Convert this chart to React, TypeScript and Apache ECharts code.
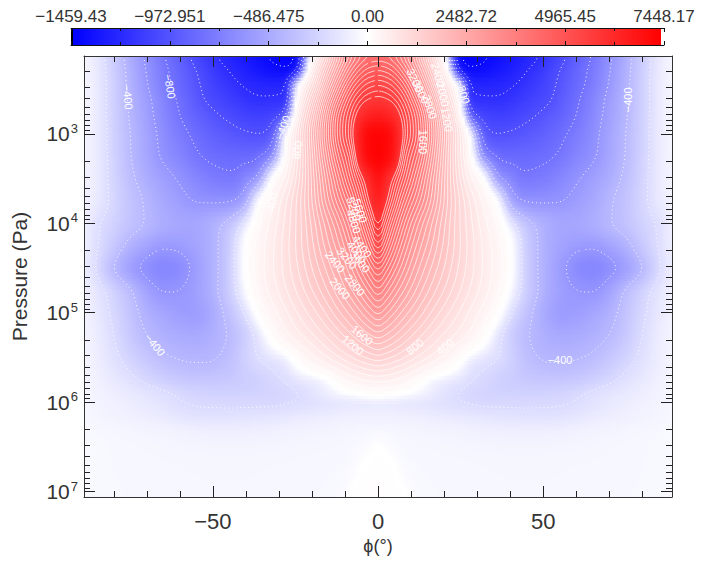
import React, { useEffect, useRef } from "react";
import * as echarts from "echarts";

// Colour bar
const barLabels = ["\u22121459.43", "\u2212972.951", "\u2212486.475", "0.00", "2482.72", "4965.45", "7448.17"];
const valueMin = -1459.43;
const valueMax = 7448.17;

// Axes
const phiMajor = [-50, 0, 50];
const phiMinor = [-80, -70, -60, -40, -30, -20, -10, 10, 20, 30, 40, 60, 70, 80];
const pressureMajor = [1e3, 1e4, 1e5, 1e6, 1e7];
const pressureMinor = [
  200, 300, 400, 500, 600, 700, 800, 900,
  2e3, 3e3, 4e3, 5e3, 6e3, 7e3, 8e3, 9e3,
  2e4, 3e4, 4e4, 5e4, 6e4, 7e4, 8e4, 9e4,
  2e5, 3e5, 4e5, 5e5, 6e5, 7e5, 8e5, 9e5,
  2e6, 3e6, 4e6, 5e6, 6e6, 7e6, 8e6, 9e6,
];

// Field: |phi| columns, log10(p) rows
const phiColumns = [0, 4, 8, 12, 16, 20, 24, 28, 32, 36, 40, 44, 48, 52, 56, 60, 65, 70, 75, 80, 85, 89];
const logPressureRows = [2.13, 2.285, 2.45, 2.62, 2.79, 3.0, 3.235, 3.49, 3.74, 4.0, 4.24, 4.5, 4.74, 5.0, 5.245, 5.5, 5.75, 5.915, 6.0, 6.14, 6.31, 6.5, 6.755, 7.06];
const fieldRows = [
  [4200, 4050, 3500, 2600, 1400, 150, -1300, -1455, -1420, -1380, -1330, -1270, -1220, -1125, -1030, -920, -790, -630, -470, -290, -130, -50],
  [4800, 4600, 4000, 3050, 1900, 650, -1100, -1380, -1370, -1330, -1280, -1220, -1160, -1070, -980, -880, -760, -610, -450, -280, -125, -50],
  [5400, 5200, 4600, 3600, 2400, 1100, 50, -1220, -1250, -1240, -1215, -1170, -1110, -1040, -950, -860, -740, -590, -440, -270, -120, -50],
  [5950, 5750, 5150, 4150, 2950, 1600, 400, -1150, -1180, -1185, -1160, -1110, -1060, -1010, -920, -825, -700, -560, -425, -270, -120, -50],
  [6650, 6350, 5500, 4600, 3350, 2000, 750, -850, -1060, -1090, -1080, -1040, -1000, -945, -880, -800, -680, -545, -415, -265, -120, -50],
  [7350, 7050, 5650, 4700, 3500, 2250, 1050, -50, -900, -1000, -985, -960, -925, -880, -820, -750, -650, -520, -400, -260, -120, -50],
  [7400, 7000, 5300, 4400, 3300, 2150, 1050, 130, -620, -820, -860, -860, -845, -820, -770, -700, -625, -510, -395, -255, -120, -55],
  [7050, 5950, 4900, 3950, 3000, 2050, 1150, 450, 30, -530, -680, -770, -760, -730, -680, -620, -550, -470, -370, -245, -120, -60],
  [6600, 5450, 4350, 3550, 2800, 2000, 1300, 750, 320, 0, -470, -610, -625, -620, -605, -560, -500, -420, -340, -235, -125, -65],
  [6000, 4800, 3800, 3050, 2450, 1850, 1300, 850, 480, 180, -120, -320, -420, -480, -510, -505, -470, -410, -345, -260, -180, -80],
  [5300, 4250, 3400, 2750, 2250, 1750, 1300, 900, 560, 280, 30, -240, -390, -480, -530, -565, -575, -520, -440, -310, -190, -90],
  [4350, 3650, 3000, 2450, 2000, 1600, 1220, 880, 570, 300, 40, -230, -390, -490, -580, -660, -690, -640, -540, -400, -215, -90],
  [3650, 3100, 2600, 2150, 1750, 1400, 1080, 780, 500, 240, -20, -240, -385, -490, -560, -600, -610, -530, -390, -265, -150, -80],
  [2900, 2500, 2100, 1750, 1400, 1100, 830, 560, 310, 70, -170, -320, -430, -520, -565, -555, -510, -450, -340, -225, -130, -70],
  [2150, 1900, 1600, 1300, 1030, 780, 560, 340, 100, -130, -270, -370, -430, -470, -490, -480, -450, -400, -310, -200, -110, -60],
  [1350, 1200, 1000, 780, 560, 350, 130, -70, -140, -190, -260, -345, -395, -420, -420, -410, -380, -320, -250, -170, -100, -55],
  [480, 420, 300, 120, -40, -100, -140, -190, -225, -260, -285, -305, -315, -320, -320, -305, -270, -225, -170, -125, -85, -50],
  [40, 10, -30, -70, -110, -160, -200, -225, -245, -250, -250, -250, -250, -245, -235, -210, -175, -145, -120, -95, -70, -45],
  [-120, -125, -135, -145, -160, -175, -195, -210, -225, -225, -225, -225, -222, -220, -212, -195, -160, -130, -105, -85, -65, -45],
  [-85, -88, -92, -100, -110, -120, -130, -140, -150, -160, -165, -170, -172, -170, -165, -150, -125, -105, -88, -72, -58, -42],
  [-48, -50, -55, -60, -65, -70, -75, -82, -88, -92, -95, -97, -97, -95, -90, -82, -72, -64, -57, -50, -45, -38],
  [8, -28, -44, -48, -50, -52, -54, -56, -58, -60, -62, -62, -62, -60, -58, -56, -54, -50, -47, -44, -40, -35],
  [40, 18, -30, -42, -44, -45, -46, -47, -48, -49, -50, -50, -50, -50, -49, -48, -47, -46, -45, -43, -40, -35],
  [60, 40, 15, -38, -42, -43, -44, -45, -46, -47, -48, -48, -48, -48, -47, -46, -45, -44, -43, -42, -40, -35],
];

// Contour levels
const dottedLevels = [-1400, -1200, -1000, -800, -600, -400, -200];
const solidLevels = [200, 400, 600, 800, 1000, 1200, 1400, 1600, 1800, 2000, 2200, 2400, 2600, 2800, 3000, 3200, 3400, 3600, 3800, 4000, 4200, 4400, 4600, 4800, 5000, 5200, 5400, 5600, 5800];

// Contour labels: phi, log10(p), text, angle in degrees
const contourLabels: [number, number, string, number][] = [
  [11.2, 2.4, "3200", -65], [13.0, 2.53, "3600", -65], [15.7, 2.7, "2800", -72],
  [18.2, 2.34, "2400", -75], [19.7, 2.56, "2000", -78], [20.9, 2.84, "1200", -80],
  [13.6, 3.09, "1600", -90], [25.7, 2.53, "\u2212800", -75], [75.7, 2.62, "\u2212400", 90],
  [-75.7, 2.59, "\u2212400", -85], [-63, 2.47, "\u2212800", -80], [-28.8, 2.93, "\u2212400", 70],
  [-24.5, 3.18, "800", 80], [-32.1, 3.76, "400", 80],
  [-5.4, 3.86, "5600", -72], [-7.3, 3.84, "5200", -72], [-7.3, 3.98, "4800", -72],
  [-4.8, 4.26, "4400", -55], [-6.4, 4.32, "4000", -55], [-5.4, 4.43, "3600", -50],
  [-9.4, 4.39, "3200", -50], [-7, 4.69, "2800", -50], [-13, 4.43, "2400", -50],
  [-11.5, 4.73, "2000", -50], [-4.8, 5.25, "1600", -40], [-7.6, 5.36, "1200", -40],
  [11.2, 5.38, "800", 40], [20.3, 5.38, "400", 40], [-67.5, 5.36, "\u2212400", -50], [55.1, 5.53, "\u2212400", 0],
];

const FONT = "Liberation Sans, DejaVu Sans";
const INK = "#333";

function valueColor(v: number): string {
  if (v < 0) {
    const c = Math.round(255 * (1 - Math.min(1, -v / -valueMin)));
    return `rgb(${c},${c},255)`;
  }
  const c = Math.round(255 * (1 - Math.min(1, v / valueMax)));
  return `rgb(255,${c},${c})`;
}

// Cubic used only to draw the table smoothly on screen
function slopes(xs: number[], ys: number[]): number[] {
  const n = xs.length;
  const h = xs.slice(1).map((x, i) => x - xs[i]);
  const d = h.map((w, i) => (ys[i + 1] - ys[i]) / w);
  const m = new Array(n).fill(0);
  m[0] = d[0];
  m[n - 1] = d[n - 2];
  for (let i = 1; i < n - 1; i++) {
    if (d[i - 1] * d[i] <= 0) m[i] = 0;
    else {
      const avg = (h[i] * d[i - 1] + h[i - 1] * d[i]) / (h[i - 1] + h[i]);
      const lim = 3 * Math.min(Math.abs(d[i - 1]), Math.abs(d[i]));
      m[i] = Math.sign(avg) * Math.min(Math.abs(avg), lim);
    }
  }
  return m;
}
function hermite(xs: number[], ys: number[], m: number[], x: number): number {
  let i = 0;
  while (i < xs.length - 2 && x > xs[i + 1]) i++;
  const w = xs[i + 1] - xs[i];
  const t = Math.max(0, Math.min(1, (x - xs[i]) / w));
  const t2 = t * t;
  const t3 = t2 * t;
  return (2 * t3 - 3 * t2 + 1) * ys[i] + (t3 - 2 * t2 + t) * w * m[i] + (-2 * t3 + 3 * t2) * ys[i + 1] + (t3 - t2) * w * m[i + 1];
}

function softened(grid: number[][], rx: number, ry: number): number[][] {
  const ny = grid.length;
  const nx = grid[0].length;
  const across = grid.map((row) =>
    row.map((_, i) => {
      let s = 0, c = 0;
      for (let k = Math.max(0, i - rx); k <= Math.min(nx - 1, i + rx); k++) { s += row[k]; c++; }
      return s / c;
    })
  );
  return across.map((row, j) =>
    row.map((_, i) => {
      let s = 0, c = 0;
      for (let k = Math.max(0, j - ry); k <= Math.min(ny - 1, j + ry); k++) { s += across[k][i]; c++; }
      return s / c;
    })
  );
}

function buildScreenField() {
  const phis: number[] = [];
  for (let p = -89; p <= 89; p++) phis.push(p);
  const exps: number[] = [];
  const bottom = logPressureRows[logPressureRows.length - 1];
  const steps = 176;
  for (let j = 0; j <= steps; j++) exps.push(logPressureRows[0] + ((bottom - logPressureRows[0]) * j) / steps);
  const byAbs: number[][] = [];
  const rowSlopes = fieldRows.map((r) => slopes(phiColumns, r));
  for (let a = 0; a <= 89; a++) {
    const col = fieldRows.map((r, k) => hermite(phiColumns, r, rowSlopes[k], a));
    const m = slopes(logPressureRows, col);
    byAbs.push(exps.map((e) => hermite(logPressureRows, col, m, e)));
  }
  const raw = exps.map((_, j) => phis.map((p) => byAbs[Math.abs(p)][j]));
  const grid = softened(raw, 1, 2);
  return { phis, exps, grid };
}

function contourLines(phis: number[], exps: number[], grid: number[][], level: number): [number, number][][] {
  const nx = phis.length;
  const ny = exps.length;
  const pts = new Map<number, [number, number]>();
  const adj = new Map<number, number[]>();
  const hEdge = (i: number, j: number) => (j * nx + i) * 2;
  const vEdge = (i: number, j: number) => (j * nx + i) * 2 + 1;
  const getPoint = (id: number, i: number, j: number, horizontal: boolean) => {
    if (pts.has(id)) return;
    if (horizontal) {
      const t = (level - grid[j][i]) / (grid[j][i + 1] - grid[j][i]);
      pts.set(id, [phis[i] + t * (phis[i + 1] - phis[i]), exps[j]]);
    } else {
      const t = (level - grid[j][i]) / (grid[j + 1][i] - grid[j][i]);
      pts.set(id, [phis[i], exps[j] + t * (exps[j + 1] - exps[j])]);
    }
  };
  const crosses = (a: number, b: number) => a < level !== b < level;
  const link = (a: number, b: number) => {
    if (!adj.has(a)) adj.set(a, []);
    if (!adj.has(b)) adj.set(b, []);
    adj.get(a)!.push(b);
    adj.get(b)!.push(a);
  };
  for (let j = 0; j < ny - 1; j++) {
    for (let i = 0; i < nx - 1; i++) {
      const tl = grid[j][i], tr = grid[j][i + 1], bl = grid[j + 1][i], br = grid[j + 1][i + 1];
      const found: number[] = [];
      if (crosses(tl, tr)) { const id = hEdge(i, j); getPoint(id, i, j, true); found.push(id); }
      if (crosses(tr, br)) { const id = vEdge(i + 1, j); getPoint(id, i + 1, j, false); found.push(id); }
      if (crosses(bl, br)) { const id = hEdge(i, j + 1); getPoint(id, i, j + 1, true); found.push(id); }
      if (crosses(tl, bl)) { const id = vEdge(i, j); getPoint(id, i, j, false); found.push(id); }
      if (found.length === 2) link(found[0], found[1]);
      else if (found.length === 4) { link(found[0], found[1]); link(found[2], found[3]); }
    }
  }
  const seen = new Set<number>();
  const out: [number, number][][] = [];
  const walk = (start: number) => {
    const chain = [start];
    seen.add(start);
    let cur = start;
    for (;;) {
      const next = (adj.get(cur) || []).find((n) => !seen.has(n));
      if (next === undefined) break;
      seen.add(next);
      chain.push(next);
      cur = next;
    }
    out.push(chain.map((id) => pts.get(id)!));
  };
  adj.forEach((list, id) => { if (list.length === 1 && !seen.has(id)) walk(id); });
  adj.forEach((_, id) => { if (!seen.has(id)) walk(id); });
  return out;
}

function buildOption() {
  const { phis, exps, grid } = buildScreenField();
  const lines: { pts: [number, number][]; dotted: boolean }[] = [];
  dottedLevels.forEach((l) => contourLines(phis, exps, grid, l).forEach((pts) => lines.push({ pts, dotted: true })));
  solidLevels.forEach((l) => contourLines(phis, exps, grid, l).forEach((pts) => lines.push({ pts, dotted: false })));

  const frameAxis = {
    axisLine: { show: true, onZero: false, lineStyle: { color: "#333", width: 1 } },
    splitLine: { show: false },
    z: 10,
  };
  const xBase = {
    type: "value", min: -89, max: 89, gridIndex: 0, ...frameAxis,
    axisTick: { show: true, inside: true, length: 11, customValues: phiMajor, lineStyle: { color: "#222" } },
  };
  const yBase = {
    type: "log", logBase: 10, min: Math.pow(10, logPressureRows[0]), max: Math.pow(10, logPressureRows[logPressureRows.length - 1]),
    inverse: true, gridIndex: 0, ...frameAxis,
    axisTick: { show: true, inside: true, length: 11, customValues: pressureMajor, lineStyle: { color: "#222" } },
  };
  const barAxis = {
    type: "value", min: 0, max: 6, interval: 1, gridIndex: 1, z: 10,
    axisLine: { show: true, onZero: false, lineStyle: { color: "#111", width: 1 } },
    axisTick: { show: true, inside: true, length: 4, lineStyle: { color: "#111" } },
    minorTick: { show: true, splitNumber: 2, length: 3, lineStyle: { color: "#111" } },
    splitLine: { show: false }, minorSplitLine: { show: false },
  };

  return {
    animation: false,
    backgroundColor: "#fff",
    grid: [
      { left: 84, width: 588, top: 56, height: 441, containLabel: false, outerBoundsMode: "none" },
      { left: 71, width: 593, top: 28, height: 17, containLabel: false, outerBoundsMode: "none" },
    ],
    xAxis: [
      {
        ...xBase, position: "bottom", name: "\u03d5(\u00b0)", nameLocation: "middle", nameGap: 38,
        nameTextStyle: { fontFamily: FONT, fontSize: 18, color: INK },
        axisLabel: { show: true, customValues: phiMajor, margin: 13, fontFamily: FONT, fontSize: 22, color: INK, formatter: (v: number) => (v < 0 ? `\u2212${-v}` : `${v}`) },
      },
      { ...xBase, position: "top", axisLabel: { show: false } },
      {
        ...barAxis, position: "top",
        axisLabel: { show: true, margin: 3, fontFamily: FONT, fontSize: 17, color: INK, formatter: (v: number) => barLabels[Math.round(v)] },
      },
      { ...barAxis, position: "bottom", axisLabel: { show: false } },
    ],
    yAxis: [
      {
        ...yBase, position: "left", name: "Pressure (Pa)", nameLocation: "middle", nameGap: 54, nameRotate: 90,
        nameTextStyle: { fontFamily: FONT, fontSize: 21, color: INK },
        axisLabel: {
          show: true, customValues: pressureMajor, margin: 6,
          formatter: (v: number) => `{b|10}{s|${Math.round(Math.log10(v))}}`,
          rich: {
            b: { fontFamily: FONT, fontSize: 21, color: INK },
            s: { fontFamily: FONT, fontSize: 13, color: INK, padding: [0, 0, 11, 1] },
          },
        },
      },
      { ...yBase, position: "right", axisLabel: { show: false } },
      { type: "value", min: 0, max: 1, gridIndex: 1, show: false },
    ],
    series: [
      {
        type: "custom", name: "field", xAxisIndex: 0, yAxisIndex: 0, z: 1, silent: true, progressive: 0,
        data: exps.map((e) => [phis[0], Math.pow(10, e)]),
        encode: { x: 0, y: 1 },
        renderItem: (params: any, api: any) => {
          const j = params.dataIndex;
          const a = api.coord([phis[0], Math.pow(10, exps[j])]);
          const b = api.coord([phis[phis.length - 1], Math.pow(10, exps[Math.min(j + 1, exps.length - 1)])]);
          const y0 = Math.floor(a[1]);
          return {
            type: "rect",
            shape: { x: a[0], y: y0, width: b[0] - a[0], height: Math.max(1, Math.ceil(b[1]) - y0 + 1) },
            style: {
              fill: {
                type: "linear", x: 0, y: 0, x2: 1, y2: 0,
                colorStops: phis.map((_, i) => ({ offset: i / (phis.length - 1), color: valueColor(grid[j][i]) })),
              },
            },
          };
        },
      },
      {
        type: "custom", name: "contours", xAxisIndex: 0, yAxisIndex: 0, z: 2, silent: true, progressive: 0,
        data: lines.map((l) => [l.pts[0][0], Math.pow(10, l.pts[0][1])]),
        encode: { x: 0, y: 1 },
        renderItem: (params: any, api: any) => {
          const l = lines[params.dataIndex];
          return {
            type: "polyline",
            shape: { points: l.pts.map((p) => api.coord([p[0], Math.pow(10, p[1])])) },
            style: l.dotted
              ? { fill: "none", stroke: "rgba(255,255,255,0.9)", lineWidth: 1, lineDash: [1, 3] }
              : { fill: "none", stroke: "rgba(255,255,255,0.85)", lineWidth: 0.8 },
          };
        },
      },
      {
        type: "custom", name: "contour labels", xAxisIndex: 0, yAxisIndex: 0, z: 3, silent: true,
        data: contourLabels.map((l) => [l[0], Math.pow(10, l[1])]),
        encode: { x: 0, y: 1 },
        renderItem: (params: any, api: any) => {
          const l = contourLabels[params.dataIndex];
          const c = api.coord([l[0], Math.pow(10, l[1])]);
          return {
            type: "text", x: c[0], y: c[1], rotation: (l[3] * Math.PI) / 180,
            style: { text: l[2], fill: "#fff", fontFamily: FONT, fontSize: 11, align: "center", verticalAlign: "middle" },
          };
        },
      },
      {
        type: "custom", name: "minor ticks", xAxisIndex: 0, yAxisIndex: 0, z: 9, silent: true, progressive: 0,
        data: [
          ...phiMinor.map((v) => [v, Math.pow(10, logPressureRows[0])]),
          ...pressureMinor.map((v) => [-89, v]),
        ],
        encode: { x: 0, y: 1 },
        renderItem: (params: any, api: any) => {
          const isX = params.dataIndex < phiMinor.length;
          const c = api.coord([api.value(0), api.value(1)]);
          const lo = api.coord([-89, Math.pow(10, logPressureRows[logPressureRows.length - 1])]);
          const hi = api.coord([89, Math.pow(10, logPressureRows[0])]);
          const style = { stroke: "#222", lineWidth: 1, fill: "none" };
          const len = 6;
          const x = Math.round(c[0]) + 0.5;
          const y = Math.round(c[1]) + 0.5;
          return {
            type: "group",
            children: isX
              ? [
                  { type: "line", shape: { x1: x, y1: hi[1], x2: x, y2: hi[1] + len }, style },
                  { type: "line", shape: { x1: x, y1: lo[1], x2: x, y2: lo[1] - len }, style },
                ]
              : [
                  { type: "line", shape: { x1: lo[0], y1: y, x2: lo[0] + len, y2: y }, style },
                  { type: "line", shape: { x1: hi[0], y1: y, x2: hi[0] - len, y2: y }, style },
                ],
          };
        },
      },
      {
        type: "custom", name: "colour bar", xAxisIndex: 2, yAxisIndex: 2, z: 1, silent: true,
        data: [[0, 0]],
        encode: { x: 0, y: 1 },
        renderItem: (_: any, api: any) => {
          const a = api.coord([0, 1]);
          const b = api.coord([6, 0]);
          return {
            type: "rect",
            shape: { x: a[0], y: a[1], width: b[0] - a[0], height: b[1] - a[1] },
            style: {
              fill: {
                type: "linear", x: 0, y: 0, x2: 1, y2: 0,
                colorStops: [
                  { offset: 0, color: "#000" }, { offset: 0.003, color: "#000" },
                  { offset: 0.003, color: "#0000ff" }, { offset: 0.5, color: "#ffffff" },
                  { offset: 0.995, color: "#ff0000" }, { offset: 0.995, color: "#ffffff" }, { offset: 1, color: "#ffffff" },
                ],
              },
            },
          };
        },
      },
    ],
  };
}

export default function App() {
  const ref = useRef<HTMLDivElement>(null);
  useEffect(() => {
    const chart = echarts.init(ref.current!, undefined, { renderer: "svg" });
    chart.setOption(buildOption() as any);
    return () => chart.dispose();
  }, []);
  return <div ref={ref} style={{ position: "fixed", left: 0, top: 0, width: 707, height: 565 }} />;
}
